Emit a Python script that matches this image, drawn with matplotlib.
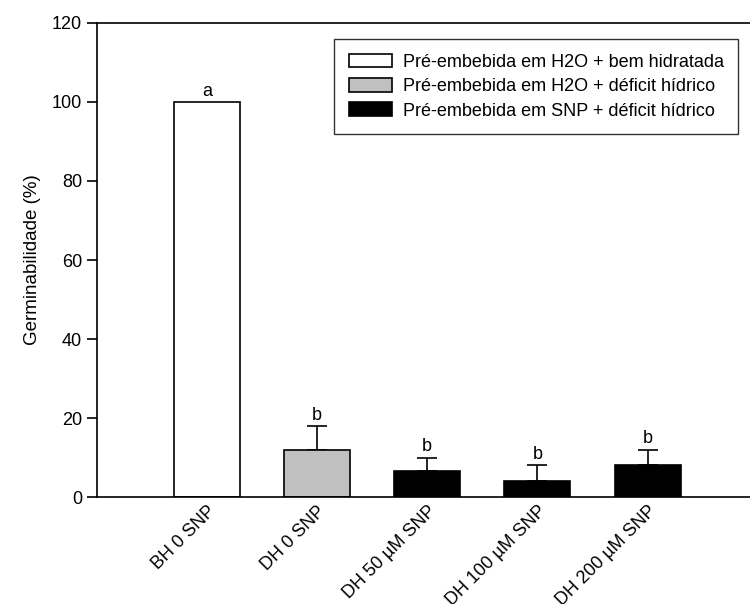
import numpy as np
import matplotlib
matplotlib.use("Agg")
import matplotlib.pyplot as plt

plt.rcParams['font.family'] = ['Liberation Sans', 'DejaVu Sans']

categories = ["BH 0 SNP", "DH 0 SNP", "DH 50 µM SNP", "DH 100 µM SNP", "DH 200 µM SNP"]
values = [100, 12, 6.6, 4, 8]
errors = [0, 6, 3.4, 4, 4]
letters = ["a", "b", "b", "b", "b"]
groups = [0, 1, 2, 2, 2]
group_labels = ["Pré-embebida em H2O + bem hidratada",
                "Pré-embebida em H2O + déficit hídrico",
                "Pré-embebida em SNP + déficit hídrico"]
group_colors = ["white", "#c0c0c0", "black"]

fig = plt.figure(figsize=(7.5, 6.04), dpi=100)
ax = fig.add_axes([0.129, 0.177, 0.871, 0.785])

x = np.arange(len(categories))
for g in range(3):
    idx = [i for i in range(len(x)) if groups[i] == g]
    ax.bar(x[idx], [values[i] for i in idx], width=0.6, color=group_colors[g],
           edgecolor="black", linewidth=1.2, label=group_labels[g], zorder=2)

for i in range(len(x)):
    if errors[i] > 0:
        ax.errorbar(x[i], values[i], yerr=[[0], [errors[i]]], fmt="none",
                    ecolor="black", elinewidth=1.2, capsize=7, capthick=1.2, zorder=1)
    ax.text(x[i], values[i] + errors[i] + 0.6, letters[i], ha="center", va="bottom", fontsize=13)

ax.set_xlim(-1, 4.93)
ax.set_ylim(0, 120)
ax.set_yticks(np.arange(0, 121, 20))
ax.set_xticks(x)
ax.set_xticklabels(categories, rotation=45, ha="right", rotation_mode="anchor", fontsize=13)
ax.tick_params(axis="x", length=0, pad=4)
ax.tick_params(axis="y", labelsize=13, direction="out", length=7, width=1.2)
ax.set_ylabel("Germinabilidade (%)", fontsize=13.5, labelpad=8)
ax.spines["right"].set_visible(False)
for s in ["left", "bottom", "top"]:
    ax.spines[s].set_linewidth(1.2)

leg = ax.legend(loc="upper right", bbox_to_anchor=(0.982, 0.966), borderaxespad=0,
                fontsize=13, frameon=True, fancybox=False, edgecolor="black",
                handlelength=2.4, handleheight=0.8, borderpad=0.8, labelspacing=0.4,
                handletextpad=0.6)
leg.get_frame().set_linewidth(1.0)

fig.savefig("out.png", dpi=100)
